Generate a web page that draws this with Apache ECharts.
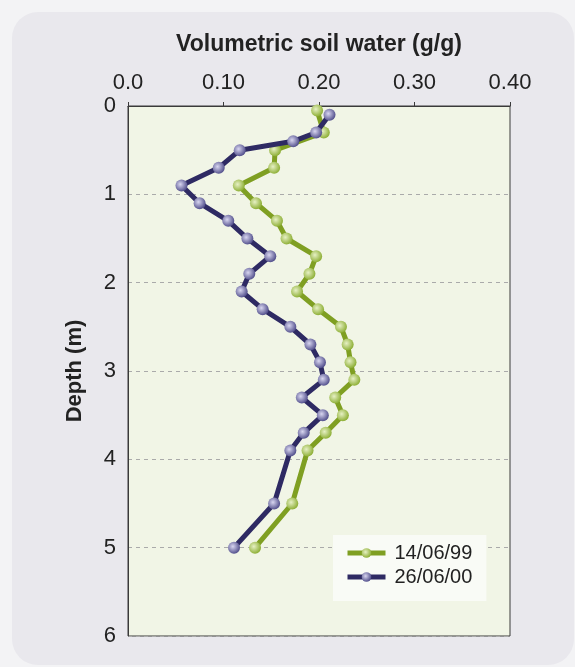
<!DOCTYPE html>
<html>
<head>
<meta charset="utf-8">
<script src="https://cdn.jsdelivr.net/npm/echarts@6/dist/echarts.min.js"></script>
<style>
  html, body { margin: 0; padding: 0; background: #f3f3f5; }
  #panel { position: absolute; left: 12px; top: 12px; width: 562px; height: 653px; background: #e9e8ed; border-radius: 26px; }
  #chart { position: absolute; left: 0; top: 0; width: 575px; height: 667px; }
</style>
</head>
<body>
<div id="panel"></div>
<div id="chart"></div>
<script>
// Depths (m)
const depth99 = [0.05, 0.3, 0.5, 0.7, 0.9, 1.1, 1.3, 1.5, 1.7, 1.9, 2.1, 2.3, 2.5, 2.7, 2.9, 3.1, 3.3, 3.5, 3.7, 3.9, 4.5, 5.0];
const water99 = [0.198, 0.205, 0.154, 0.153, 0.116, 0.134, 0.156, 0.166, 0.197, 0.190, 0.177, 0.199, 0.223, 0.230, 0.233, 0.237, 0.217, 0.225, 0.207, 0.188, 0.172, 0.133];
const depth00 = [0.1, 0.3, 0.4, 0.5, 0.7, 0.9, 1.1, 1.3, 1.5, 1.7, 1.9, 2.1, 2.3, 2.5, 2.7, 2.9, 3.1, 3.3, 3.5, 3.7, 3.9, 4.5, 5.0];
const water00 = [0.211, 0.197, 0.173, 0.117, 0.095, 0.056, 0.075, 0.105, 0.125, 0.149, 0.127, 0.119, 0.141, 0.170, 0.191, 0.201, 0.205, 0.182, 0.204, 0.184, 0.170, 0.153, 0.111];
const seriesNames = ['14/06/99', '26/06/00'];
const xTickLabels = ['0.0', '0.10', '0.20', '0.30', '0.40'];
const yTickLabels = ['0', '1', '2', '3', '4', '5', '6'];

const FONT = '"Liberation Sans", Arial, sans-serif';
const chart = echarts.init(document.getElementById('chart'), null, { renderer: 'canvas' });

function grad(center, edge) {
  return new echarts.graphic.RadialGradient(0.4, 0.4, 0.6, [
    { offset: 0, color: center }, { offset: 1, color: edge }
  ]);
}

const pairs = (xs, ys) => xs.map((v, i) => [v, ys[i]]);

chart.setOption({
  animation: false,
  grid: { left: 128, right: 65, top: 106, bottom: 31, show: true, backgroundColor: '#f1f5e6', borderColor: '#3a3a3a', borderWidth: 1 },
  xAxis: {
    type: 'value', position: 'top', min: 0, max: 0.4, interval: 0.1,
    name: 'Volumetric soil water (g/g)', nameLocation: 'middle', nameGap: 50,
    nameTextStyle: { fontFamily: FONT, fontSize: 23, fontWeight: 'bold', color: '#222' },
    axisLine: { show: true, lineStyle: { color: '#3a3a3a', width: 1 } },
    axisTick: { show: true, length: 4, lineStyle: { color: '#3a3a3a' } },
    axisLabel: { fontFamily: FONT, fontSize: 22, color: '#222', margin: 12,
      formatter: (v) => xTickLabels[Math.round(v * 10)] },
    splitLine: { show: false }
  },
  yAxis: {
    type: 'value', inverse: true, min: 0, max: 6, interval: 1,
    name: 'Depth (m)', nameLocation: 'middle', nameGap: 42, nameRotate: 90,
    nameTextStyle: { fontFamily: FONT, fontSize: 22, fontWeight: 'bold', color: '#222' },
    axisLine: { show: true, lineStyle: { color: '#3a3a3a', width: 1 } },
    axisTick: { show: false },
    axisLabel: { fontFamily: FONT, fontSize: 22, color: '#222', margin: 12,
      formatter: (v) => yTickLabels[Math.round(v)] },
    splitLine: { show: true, lineStyle: { color: '#aaaaaa', type: [4, 4], width: 1 } }
  },
  legend: {
    left: 333, top: 535, orient: 'vertical', itemGap: 4,
    backgroundColor: '#f9fbf6', padding: [8, 14, 14, 12],
    itemWidth: 38, itemHeight: 12,
    lineStyle: { width: 5 },
    textStyle: { fontFamily: FONT, fontSize: 20, color: '#222', padding: [0, 0, 0, 4] },
    data: seriesNames
  },
  series: [
    {
      name: seriesNames[0], type: 'line', data: pairs(water99, depth99),
      lineStyle: { color: '#7f9f22', width: 5 },
      itemStyle: { color: grad('#e6f0c4', '#8fb038'), borderWidth: 0 },
      symbol: 'circle', symbolSize: 12, color: '#7f9f22', z: 2
    },
    {
      name: seriesNames[1], type: 'line', data: pairs(water00, depth00),
      lineStyle: { color: '#2e2a63', width: 5 },
      itemStyle: { color: grad('#d8d6f0', '#55528e'), borderWidth: 0 },
      symbol: 'circle', symbolSize: 12, color: '#2e2a63', z: 3
    }
  ]
});
</script>
</body>
</html>
